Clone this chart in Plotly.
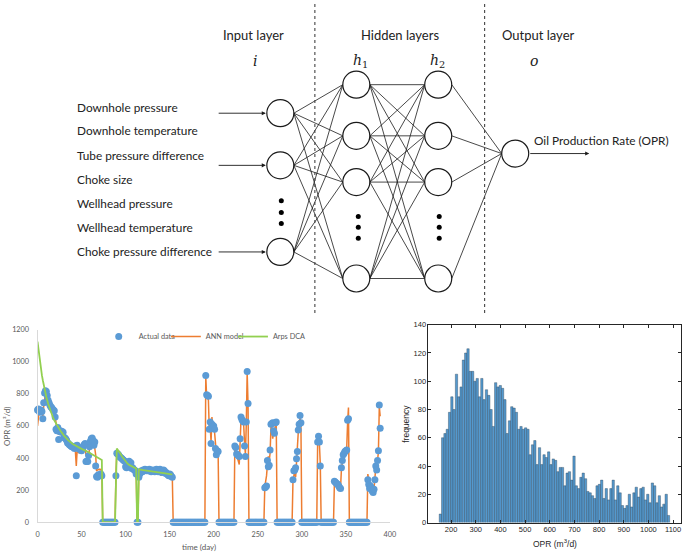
import plotly.graph_objects as go

# ── network schematic (drawn in page-pixel units) ─────────────────
input_labels = ["Downhole pressure", "Downhole temperature", "Tube pressure difference",
                "Choke size", "Wellhead pressure", "Wellhead temperature",
                "Choke pressure difference"]
input_label_y = [105, 129, 154, 178, 203, 227, 252]
layer_x = [282, 359, 442, 520]
layer_nodes_y = [[111, 164, 252], [82, 134, 181, 279], [82, 134, 181, 279], [152]]
ellipsis_x = [283, 361, 443]
ellipsis_y = [[200, 212, 223], [216, 227, 238], [216, 227, 238]]
input_arrow_y = [111, 164, 252]
layer_titles = ["Input layer", "Hidden layers", "Output layer"]
layer_title_x = [255, 403, 543]
layer_symbols = ["<i>i</i>", "<i>h</i><sub>1</sub>", "<i>h</i><sub>2</sub>", "<i>o</i>"]
layer_symbol_x = [256, 363, 441, 539]
divider_x = [317, 489]

# ── OPR history (one value per day) ──────────────────────────────
days = list(range(390))
opr_actual = [
    700, 705, 690, 685, 700, 690, 645, 745, 805, 820,
    815, 790, 760, 745, 730, 720, 715, 705, 700, 695,
    655, 580, 570, 590, 515, 565, 570, 560, 565, 560,
    530, 525, 520, 510, 495, 490, 485, 480, 475, 470,
    470, 465, 460, 475, 290, 480, 470, 460, 455, 450,
    445, 460, 470, 485, 490, 378, 380, 378, 415, 470,
    505, 520, 525, 510, 480, 500, 350, 285, 280, 295,
    290, 295, 300, 290,
    0, 0, 0, 0, 0, 0, 0, 0, 0, 0, 0, 0, 0, 0, 0,
    290, 430, 425, 420, 410, 405, 400, 395, 390, 385, 380, 345,
    340, 350, 345, 380, 365, 370, 335, 340, 330, 325, 320, 300,
    0, 0,
    280, 300, 310, 320, 315, 325, 320, 330, 325, 320,
    325, 320, 330, 325, 315, 320, 325, 320, 315, 325,
    330, 320, 315, 325, 330, 320, 310, 315, 325, 320,
    305, 310, 300, 295, 290, 300, 295, 285, 280,
    0, 0, 0, 0, 0, 0, 0, 0, 0, 0, 0, 0, 0, 0, 0, 0, 0, 0, 0,
    0, 0, 0, 0, 0, 0, 0, 0, 0, 0, 0, 0, 0, 0, 0, 0, 0, 0,
    915, 795, 790, 785, 580, 625, 490, 610, 585, 600, 580, 460, 420, 445, 440,
    0, 0, 0, 0, 0, 0, 0, 0, 0, 0, 0, 0, 0, 0, 0, 0, 0, 0,
    475, 465, 425, 420, 415, 410, 520, 655, 640, 630, 625, 475, 410, 625, 940, 740,
    0, 0, 0, 0, 0, 0, 0, 0, 0, 0, 0, 0, 0, 0, 0, 0, 0, 0,
    215, 220, 225, 385, 345, 355, 450, 610, 615, 620, 570, 555, 620, 625,
    0, 0, 0, 0, 0, 0, 0, 0, 0, 0, 0, 0, 0, 0, 0, 0, 0, 0,
    265, 320, 325, 340, 395, 440, 575, 610, 665, 620,
    0, 0, 0, 0, 0, 0, 0, 0, 0, 0, 0, 0, 0, 0, 0, 0, 0, 0,
    500, 535, 500, 350,
    0, 0, 0, 0, 0, 0, 0, 0, 0, 0, 0, 0, 0, 0, 0,
    255, 250, 245, 240, 235, 225, 215, 210, 340, 385, 420, 430, 440, 445, 450, 635, 645,
    0, 0, 0, 0, 0, 0, 0, 0, 0, 0, 0, 0, 0, 0, 0, 0, 0, 0, 0, 0, 0,
    265, 235, 210, 225, 215, 195, 185, 205, 265, 350, 325, 385, 445, 730, 585,
]
opr_ann = [
    600, 680, 700, 690, 690, 700, 660, 720, 780, 800,
    800, 790, 770, 745, 730, 720, 710, 705, 700, 690,
    660, 600, 580, 570, 545, 555, 560, 560, 560, 555,
    535, 525, 515, 505, 495, 490, 480, 475, 470, 465,
    465, 460, 455, 440, 350, 450, 440, 430, 445, 430,
    440, 445, 455, 470, 460, 420, 400, 390, 420, 460,
    490, 500, 505, 480, 470, 460, 420, 320, 325, 330,
    330, 325, 330, 320,
    0, 0, 0, 0, 0, 0, 0, 0, 0, 0, 0, 0, 0, 0, 0,
    300, 440, 420, 415, 410, 400, 395, 390, 385, 380, 370, 350,
    345, 345, 350, 370, 360, 355, 340, 335, 330, 325, 315, 300,
    0, 0,
    290, 305, 315, 320, 320, 320, 325, 325, 320, 325,
    320, 325, 325, 320, 320, 325, 320, 320, 320, 325,
    325, 320, 320, 320, 325, 290, 315, 320, 320, 315,
    310, 305, 305, 300, 295, 295, 295, 290, 285,
    0, 0, 0, 0, 0, 0, 0, 0, 0, 0, 0, 0, 0, 0, 0, 0, 0, 0, 0,
    0, 0, 0, 0, 0, 0, 0, 0, 0, 0, 0, 0, 0, 0, 0, 0, 0, 0,
    910, 780, 780, 760, 570, 600, 500, 655, 580, 590, 560, 470, 430, 440, 440,
    0, 0, 0, 0, 0, 0, 0, 0, 0, 0, 0, 0, 0, 0, 0, 0, 0, 0,
    470, 455, 430, 400, 380, 360, 500, 640, 635, 625, 610, 500, 420, 610, 935, 730,
    0, 0, 0, 0, 0, 0, 0, 0, 0, 0, 0, 0, 0, 0, 0, 0, 0, 0,
    220, 250, 290, 360, 410, 380, 430, 590, 600, 520, 560, 540, 610, 620,
    0, 0, 0, 0, 0, 0, 0, 0, 0, 0, 0, 0, 0, 0, 0, 0, 0, 0,
    260, 300, 320, 280, 390, 430, 560, 600, 650, 610,
    0, 0, 0, 0, 0, 0, 0, 0, 0, 0, 0, 0, 0, 0, 0, 0, 0, 0,
    490, 515, 490, 360,
    0, 0, 0, 0, 0, 0, 0, 0, 0, 0, 0, 0, 0, 0, 0,
    240, 240, 235, 235, 230, 225, 220, 215, 330, 380, 410, 430, 430, 440, 460, 620, 715,
    0, 0, 0, 0, 0, 0, 0, 0, 0, 0, 0, 0, 0, 0, 0, 0, 0, 0, 0, 0, 0,
    300, 240, 215, 220, 215, 200, 195, 210, 260, 340, 330, 380, 440, 720, 660,
]
arps_days = [0, 1, 2, 3, 4, 5, 6, 7, 8, 9, 10, 12, 14, 16, 18, 20, 23, 26, 30, 35,
             40, 45, 50, 55, 60, 65, 70, 73, 74, 88, 90, 92, 94, 96, 98, 100, 102,
             104, 106, 108, 110, 112, 113, 114, 115, 120, 125, 130, 135, 140, 145,
             150, 153]
arps_rate = [1125, 1075, 1025, 985, 950, 915, 885, 855, 830, 805, 780, 740, 705, 670,
             645, 625, 595, 570, 540, 510, 487, 470, 457, 445, 430, 417, 400, 388, 0, 0,
             460, 440, 428, 410, 395, 378, 366, 357, 350, 345, 340, 335, 0, 0, 330,
             325, 320, 316, 312, 308, 304, 300, 298]

# ── OPR frequency histogram ───────────────────────────────────────
hist_counts = [6, 60, 63, 66, 78, 89, 80, 105, 89, 96,
               115, 120, 123, 107, 107, 100, 102, 89, 102, 87,
               94, 90, 80, 68, 99, 96, 97, 95, 87, 63,
               72, 82, 81, 78, 66, 68, 66, 67, 66, 48,
               55, 58, 41, 53, 41, 48, 46, 50, 41, 45,
               44, 36, 39, 39, 26, 35, 36, 30, 47, 26,
               24, 32, 35, 31, 22, 21, 19, 17, 26, 27,
               30, 17, 24, 16, 24, 30, 16, 26, 21, 12,
               10, 12, 20, 11, 21, 25, 18, 24, 25, 16,
               20, 14, 28, 26, 14, 19, 11, 13, 20, 5]
hist_start = 152
hist_width = 9.34
hist_centers = [hist_start + hist_width * (i + 0.5) for i in range(len(hist_counts))]

assert len(opr_actual) == len(days) == len(opr_ann)

fig = go.Figure()

# schematic: connections, nodes, ellipses, dividers
node_r = 13.7
cx, cy = [], []
for l in range(len(layer_x) - 1):
    for ys in layer_nodes_y[l]:
        for yd in layer_nodes_y[l + 1]:
            cx += [layer_x[l] + node_r, layer_x[l + 1] - node_r, None]
            cy += [ys, yd, None]
fig.add_trace(go.Scatter(x=cx, y=cy, mode='lines', line=dict(color='#1a1a1a', width=0.8),
                         xaxis='x3', yaxis='y3', hoverinfo='skip', showlegend=False))
nx = [layer_x[l] for l, col in enumerate(layer_nodes_y) for _ in col]
ny = [y for col in layer_nodes_y for y in col]
fig.add_trace(go.Scatter(x=nx, y=ny, mode='markers',
                         marker=dict(size=27, color='white', line=dict(color='#1a1a1a', width=1.2)),
                         xaxis='x3', yaxis='y3', hoverinfo='skip', showlegend=False))
ex = [ellipsis_x[l] for l, col in enumerate(ellipsis_y) for _ in col]
ey = [y for col in ellipsis_y for y in col]
fig.add_trace(go.Scatter(x=ex, y=ey, mode='markers', marker=dict(size=5, color='black'),
                         xaxis='x3', yaxis='y3', hoverinfo='skip', showlegend=False))
for dx in divider_x:
    fig.add_trace(go.Scatter(x=[dx, dx], y=[0, 316], mode='lines',
                             line=dict(color='#444', width=1.1, dash='3px,3px'),
                             xaxis='x3', yaxis='y3', hoverinfo='skip', showlegend=False))

diag_font = dict(family='Lato', size=11.8, color='#222')
ann = []
for lab, y in zip(input_labels, input_label_y):
    ann.append(dict(x=74, y=y, text=lab, xref='x3', yref='y3', xanchor='left',
                    showarrow=False, font=diag_font))
for y in input_arrow_y:
    ann.append(dict(x=layer_x[0] - node_r - 1, y=y, ax=218, ay=y, xref='x3', yref='y3',
                    axref='x3', ayref='y3', text='', showarrow=True, arrowhead=2,
                    arrowsize=0.9, arrowwidth=0.9, arrowcolor='#1a1a1a'))
ann.append(dict(x=595, y=layer_nodes_y[3][0], ax=layer_x[3] + node_r, ay=layer_nodes_y[3][0],
                xref='x3', yref='y3', axref='x3', ayref='y3', text='', showarrow=True,
                arrowhead=2, arrowsize=0.9, arrowwidth=0.9, arrowcolor='#1a1a1a'))
ann.append(dict(x=537, y=139, text='Oil Production Rate (OPR)', xref='x3', yref='y3',
                xanchor='left', showarrow=False, font=diag_font))
for t, x in zip(layer_titles, layer_title_x):
    ann.append(dict(x=x, y=32, text=t, xref='x3', yref='y3', showarrow=False,
                    font=dict(family='Lato', size=13, color='#222')))
for t, x in zip(layer_symbols, layer_symbol_x):
    ann.append(dict(x=x, y=58, text=t, xref='x3', yref='y3', showarrow=False,
                    font=dict(family='DejaVu Serif', size=14, color='#222')))

# OPR history
fig.add_trace(go.Scatter(x=days, y=opr_ann, mode='lines', name='ANN model',
                         line=dict(color='#ED7D31', width=1.5), legend='legend2',
                         cliponaxis=False))
fig.add_trace(go.Scatter(x=days, y=opr_actual, mode='markers', name='Actual data',
                         marker=dict(color='#5B9BD5', size=7), legend='legend',
                         cliponaxis=False))
fig.add_trace(go.Scatter(x=arps_days, y=arps_rate, mode='lines', name='Arps DCA',
                         line=dict(color='#92D050', width=1.8), legend='legend3',
                         cliponaxis=False))

# histogram
fig.add_trace(go.Bar(x=hist_centers, y=hist_counts, width=hist_width, xaxis='x2', yaxis='y2',
                     marker=dict(color='#5499CE', line=dict(color='#2e4459', width=0.4)),
                     showlegend=False))

xl_font = dict(family='Lato', size=7.3, color='#595959')
ml_font = dict(family='Liberation Sans', size=7.5, color='#262626')
ann += [
    dict(x=200, y=552, text='time (day)', xref='x3', yref='y3', showarrow=False,
         font=dict(family='Lato', size=8, color='#595959')),
    dict(x=5, y=429, text='OPR (m³/d)', xref='x3', yref='y3', showarrow=False, textangle=-90,
         font=dict(family='Lato', size=8, color='#595959')),
    dict(x=560, y=548, text='OPR (m<sup>3</sup>/d)', xref='x3', yref='y3', showarrow=False,
         font=dict(family='Liberation Sans', size=8.5, color='#262626')),
    dict(x=409, y=427, text='frequency', xref='x3', yref='y3', showarrow=False, textangle=-90,
         font=dict(family='Liberation Sans', size=8.5, color='#262626')),
]

leg = dict(orientation='h', yanchor='middle', xanchor='left', font=xl_font,
           bgcolor='rgba(0,0,0,0)', borderwidth=0, itemwidth=30)
fig.update_layout(
    width=690, height=558, margin=dict(l=0, r=0, t=0, b=0),
    paper_bgcolor='white', plot_bgcolor='rgba(0,0,0,0)',
    annotations=ann,
    legend=dict(leg, x=98 / 690, y=(558 - 338) / 558),
    legend2=dict(leg, x=166 / 690, y=(558 - 338) / 558),
    legend3=dict(leg, x=234 / 690, y=(558 - 338) / 558),
    xaxis=dict(domain=[36 / 690, 393 / 690], range=[0, 400], tickvals=list(range(0, 401, 50)),
               showline=True, linecolor='#D9D9D9', linewidth=1, showgrid=False, zeroline=False,
               ticks='', tickfont=xl_font, ticklabelstandoff=5, anchor='y'),
    yaxis=dict(domain=[(558 - 526.7) / 558, (558 - 331) / 558], range=[0, 1200], dtick=200,
               showline=True, linecolor='#D9D9D9', linewidth=1, showgrid=False, zeroline=False,
               ticks='', tickfont=xl_font, ticklabelstandoff=6, anchor='x'),
    xaxis2=dict(domain=[432 / 690, 688 / 690], range=[108, 1132],
                tickvals=list(range(200, 1101, 100)), showline=True, mirror='ticks',
                linecolor='#262626', linewidth=0.6, ticks='inside', ticklen=3,
                tickcolor='#262626', tickwidth=0.6, showgrid=False, zeroline=False,
                tickfont=ml_font, anchor='y2'),
    yaxis2=dict(domain=[(558 - 527) / 558, (558 - 326) / 558], range=[0, 140], dtick=20,
                showline=True, mirror='ticks', linecolor='#262626', linewidth=0.6,
                ticks='inside', ticklen=3, tickcolor='#262626', tickwidth=0.6,
                showgrid=False, zeroline=False, tickfont=ml_font, anchor='x2'),
    xaxis3=dict(domain=[0, 1], range=[0, 690], visible=False, anchor='y3', fixedrange=True),
    yaxis3=dict(domain=[0, 1], range=[558, 0], visible=False, anchor='x3', fixedrange=True),
)

fig.write_html("out.html", config={'displayModeBar': False},
               post_script="document.body.style.margin='0';")
